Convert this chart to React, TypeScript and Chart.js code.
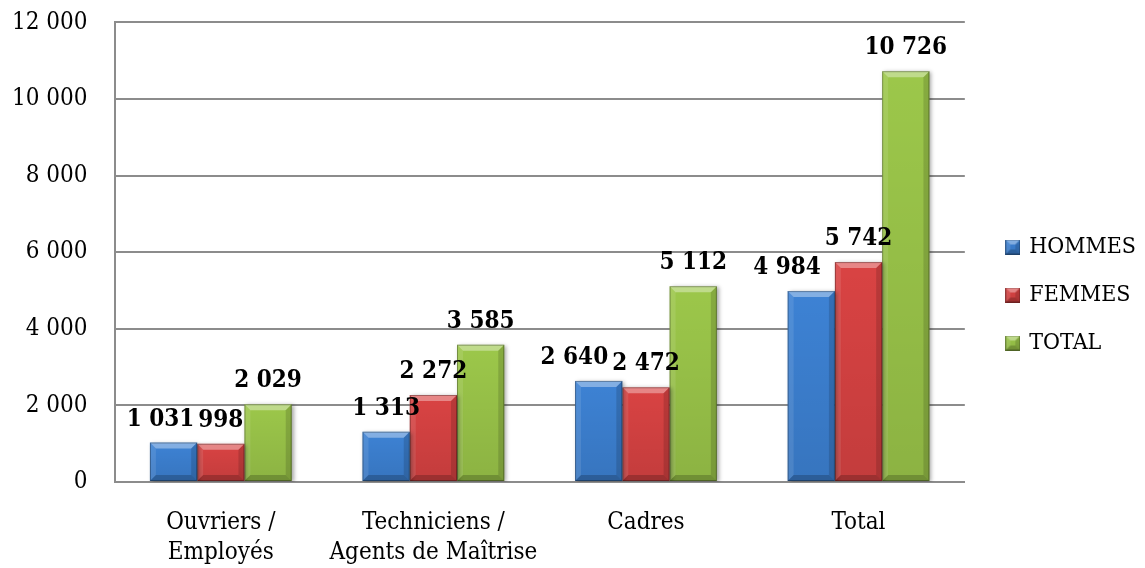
import React, { useEffect, useRef } from "react";
import { Chart, registerables } from "chart.js";

Chart.register(...registerables);

// Effectifs par catégorie socio-professionnelle
const categories: (string | string[])[] = [
  ["Ouvriers /", "Employés"],
  ["Techniciens /", "Agents de Maîtrise"],
  "Cadres",
  "Total",
];
const hommes = [1031, 1313, 2640, 4984];
const femmes = [998, 2272, 2472, 5742];
const total = [2029, 3585, 5112, 10726];
const seriesNames = ["HOMMES", "FEMMES", "TOTAL"];
const seriesColors = ["#3d82d4", "#d94343", "#9cc74a"];
const yMax = 12000;
const yStep = 2000;

const FONT = '"DejaVu Serif Condensed", "DejaVu Serif", serif';
const GRID = "#8c8c8c";

const fmt = (v: number) =>
  Math.round(v)
    .toString()
    .replace(/\B(?=(\d{3})+(?!\d))/g, " ");

function poly(ctx: CanvasRenderingContext2D, pts: number[][], fill: string) {
  ctx.beginPath();
  ctx.moveTo(pts[0][0], pts[0][1]);
  for (let i = 1; i < pts.length; i++) ctx.lineTo(pts[i][0], pts[i][1]);
  ctx.closePath();
  ctx.fillStyle = fill;
  ctx.fill();
}

// Beveled face drawn over a plain rectangle
function bevel(
  ctx: CanvasRenderingContext2D,
  l: number,
  t: number,
  r: number,
  b: number,
  size: number
) {
  const s = Math.max(0, Math.min(size, (r - l) / 2, (b - t) / 2));
  if (b - t > 2) {
    const g = ctx.createLinearGradient(0, t, 0, b);
    g.addColorStop(0, "rgba(0,0,0,0)");
    g.addColorStop(1, "rgba(0,0,0,0.1)");
    ctx.fillStyle = g;
    ctx.fillRect(l, t, r - l, b - t);
  }
  poly(ctx, [[l, t], [r, t], [r - s, t + s], [l + s, t + s]], "rgba(255,255,255,0.36)");
  poly(ctx, [[l, t], [l + s, t + s], [l + s, b - s], [l, b]], "rgba(255,255,255,0.1)");
  poly(ctx, [[r, t], [r, b], [r - s, b - s], [r - s, t + s]], "rgba(0,0,0,0.14)");
  poly(ctx, [[l, b], [r, b], [r - s, b - s], [l + s, b - s]], "rgba(0,0,0,0.2)");
  ctx.strokeStyle = "rgba(0,0,0,0.3)";
  ctx.lineWidth = 1;
  ctx.strokeRect(l + 0.5, t + 0.5, r - l - 1, b - t - 1);
}

function legendSwatch(color: string) {
  const c = document.createElement("canvas");
  c.width = 15;
  c.height = 15;
  const ctx = c.getContext("2d")!;
  ctx.fillStyle = color;
  ctx.fillRect(0, 0, 15, 15);
  bevel(ctx, 0, 0, 15, 15, 5);
  return c;
}

const barBevelPlugin = {
  id: "barBevel",
  beforeDatasetsDraw(chart: any) {
    const ctx = chart.ctx;
    ctx.save();
    ctx.shadowColor = "rgba(0,0,0,0.35)";
    ctx.shadowBlur = 4;
    ctx.shadowOffsetX = 2;
    ctx.shadowOffsetY = 1;
  },
  afterDatasetsDraw(chart: any) {
    const ctx = chart.ctx;
    ctx.restore();
    ctx.save();
    chart.data.datasets.forEach((_: any, di: number) => {
      const meta = chart.getDatasetMeta(di);
      meta.data.forEach((bar: any) => {
        const { x, y, base, width } = bar.getProps(["x", "y", "base", "width"], true);
        bevel(ctx, x - width / 2, Math.min(y, base), x + width / 2, Math.max(y, base), 6);
      });
    });
    ctx.restore();
  },
};

// Value labels above bars; a label that would collide with its right
// neighbour at nearly the same height is pushed to the left.
const valueLabelPlugin = {
  id: "valueLabels",
  afterDatasetsDraw(chart: any) {
    const ctx = chart.ctx;
    ctx.save();
    ctx.font = `bold 24px ${FONT}`;
    ctx.fillStyle = "#000";
    ctx.textAlign = "center";
    ctx.textBaseline = "alphabetic";
    const n = chart.data.labels.length;
    const dsCount = chart.data.datasets.length;
    for (let j = 0; j < n; j++) {
      const items: { cx: number; base: number; w: number; text: string }[] = [];
      for (let d = 0; d < dsCount; d++) {
        const bar = chart.getDatasetMeta(d).data[j];
        const v = chart.data.datasets[d].data[j];
        const text = fmt(v);
        items.push({ cx: bar.x, base: bar.y - 17, w: ctx.measureText(text).width, text });
      }
      for (let d = dsCount - 2; d >= 0; d--) {
        const a = items[d];
        const b = items[d + 1];
        const aRight = a.cx + a.w / 2;
        const bLeft = b.cx - b.w / 2;
        if (aRight > bLeft && Math.abs(a.base - b.base) < 32) {
          a.cx = bLeft - 4 - a.w / 2;
        }
      }
      items.forEach((it) => ctx.fillText(it.text, it.cx, it.base));
    }
    ctx.restore();
  },
};

// Nudges the legend block towards the right margin and slightly down
const legendOffsetPlugin = {
  id: "legendOffset",
  afterLayout(chart: any) {
    const lg = chart.legend;
    if (!lg) return;
    lg.left += 18;
    lg.right += 18;
    lg.top += 7;
    lg.bottom += 7;
  },
};

export default function App() {
  const ref = useRef<HTMLCanvasElement>(null);

  useEffect(() => {
    if (!ref.current) return;
    const series = [hommes, femmes, total];
    const chart = new Chart(ref.current, {
      type: "bar",
      data: {
        labels: categories,
        datasets: series.map((values, i) => ({
          label: seriesNames[i],
          data: values,
          backgroundColor: seriesColors[i],
          borderWidth: 0,
          pointStyle: legendSwatch(seriesColors[i]),
          categoryPercentage: 0.667,
          barPercentage: 1,
        })),
      },
      options: {
        animation: false,
        responsive: true,
        maintainAspectRatio: false,
        layout: { padding: { left: 4, right: 9, top: 0, bottom: 0 } },
        plugins: {
          legend: {
            position: "right",
            maxWidth: 165,
            labels: {
              usePointStyle: true,
              boxWidth: 10,
              color: "#000",
              font: { family: FONT, size: 23 },
              padding: 25,
            },
          },
          tooltip: { enabled: false },
        },
        scales: {
          x: {
            grid: { display: false, drawTicks: true, tickLength: 26, tickColor: "transparent" },
            border: { color: GRID, width: 2 },
            ticks: {
              color: "#000",
              font: { family: FONT, size: 24, lineHeight: 1.25 },
              padding: 0,
              maxRotation: 0,
              autoSkip: false,
            },
          },
          y: {
            min: 0,
            max: yMax,
            grid: { color: GRID, lineWidth: 2, drawTicks: true, tickLength: 27, tickColor: "transparent" },
            border: { color: GRID, width: 2 },
            ticks: {
              stepSize: yStep,
              color: "#000",
              font: { family: FONT, size: 24 },
              padding: 0,
              callback: (v: any) => fmt(Number(v)),
            },
          },
        },
      } as any,
      plugins: [barBevelPlugin, valueLabelPlugin, legendOffsetPlugin],
    });
    return () => chart.destroy();
  }, []);

  return (
    <div style={{ position: "absolute", left: 8, top: 8, width: 1129, height: 560 }}>
      <canvas ref={ref} />
    </div>
  );
}
